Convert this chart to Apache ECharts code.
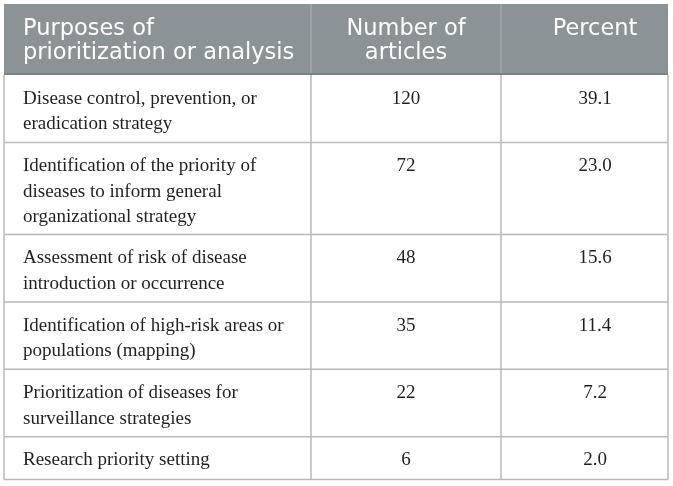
<!DOCTYPE html>
<html>
<head>
<meta charset="utf-8">
<script src="https://cdn.jsdelivr.net/npm/echarts@6/dist/echarts.min.js"></script>
<style>
html,body{margin:0;padding:0;background:#fff}
#main{width:673px;height:486px}
</style>
</head>
<body>
<div id="main"></div>
<script>
// table content
var headers = ['Purposes of\nprioritization or analysis', 'Number of\narticles', 'Percent'];
var purposes = [
    'Disease control, prevention, or\neradication strategy',
    'Identification of the priority of\ndiseases to inform general\norganizational strategy',
    'Assessment of risk of disease\nintroduction or occurrence',
    'Identification of high-risk areas or\npopulations (mapping)',
    'Prioritization of diseases for\nsurveillance strategies',
    'Research priority setting'
];
var articles = [120, 72, 48, 35, 22, 6];
var percents = [39.1, 23.0, 15.6, 11.4, 7.2, 2.0];

// layout
var L = 4, R = 668, T = 4, headBottom = 75;
var colX = [4, 311, 501, 668];
var textX = [23, 406, 595];
var rowStep = 24.7;   // row grows by this per text line
var lineH = 25.5;     // text line spacing
var borderColor = '#b9b9b9';

var rowHeight = function (i) {
    return 18 + rowStep * purposes[i].split('\n').length;
};
var rowTop = function (i) {
    var y = headBottom;
    for (var k = 0; k < i; k++) y += rowHeight(k);
    return y;
};

var bodyFont = {fontSize: 19, fontFamily: '"Liberation Serif", serif', fill: '#231f20'};
var headFont = {fontSize: 22.5, fontFamily: '"DejaVu Sans", sans-serif', fill: '#ffffff'};

var myChart = echarts.init(document.getElementById('main'));

var option = {
    animation: false,
    series: [
        {
            // header band
            type: 'custom',
            coordinateSystem: 'none',
            data: [[0]],
            renderItem: function (params, api) {
                var children = [
                    {type: 'rect', shape: {x: L, y: T, width: R - L, height: headBottom - T},
                        style: {fill: '#8c9396'}},
                    {type: 'line', shape: {x1: L, y1: headBottom - 1, x2: R, y2: headBottom - 1},
                        style: {stroke: '#7a8184', lineWidth: 2}}
                ];
                for (var c = 1; c < 3; c++) {
                    children.push({type: 'line', shape: {x1: colX[c], y1: T, x2: colX[c], y2: headBottom - 2},
                        style: {stroke: '#a9aeb1', lineWidth: 1.2}});
                }
                for (var h = 0; h < headers.length; h++) {
                    children.push({type: 'text', style: echarts.util.extend({
                        text: headers[h], x: textX[h], y: 17.5,
                        align: h == 0 ? 'left' : 'center', verticalAlign: 'top', lineHeight: 23.5
                    }, headFont)});
                }
                return {type: 'group', children: children};
            }
        },
        {
            // body rows
            type: 'custom',
            coordinateSystem: 'none',
            data: purposes.map(function (p, i) { return [i]; }),
            renderItem: function (params, api) {
                var i = params.dataIndex;
                var top = rowTop(i), h = rowHeight(i);
                var ty = top + 23.8 - lineH / 2;
                var children = [
                    {type: 'line', shape: {x1: L, y1: top + h, x2: R, y2: top + h},
                        style: {stroke: borderColor, lineWidth: 1.5}}
                ];
                for (var c = 0; c < colX.length; c++) {
                    children.push({type: 'line', shape: {x1: colX[c], y1: top, x2: colX[c], y2: top + h},
                        style: {stroke: borderColor, lineWidth: 1.5}});
                }
                var cells = [purposes[i], String(articles[i]), percents[i].toFixed(1)];
                for (var k = 0; k < cells.length; k++) {
                    children.push({type: 'text', style: echarts.util.extend({
                        text: cells[k], x: textX[k], y: ty,
                        align: k == 0 ? 'left' : 'center', verticalAlign: 'top', lineHeight: lineH
                    }, bodyFont)});
                }
                return {type: 'group', children: children};
            }
        }
    ]
};
myChart.setOption(option);
</script>
</body>
</html>
